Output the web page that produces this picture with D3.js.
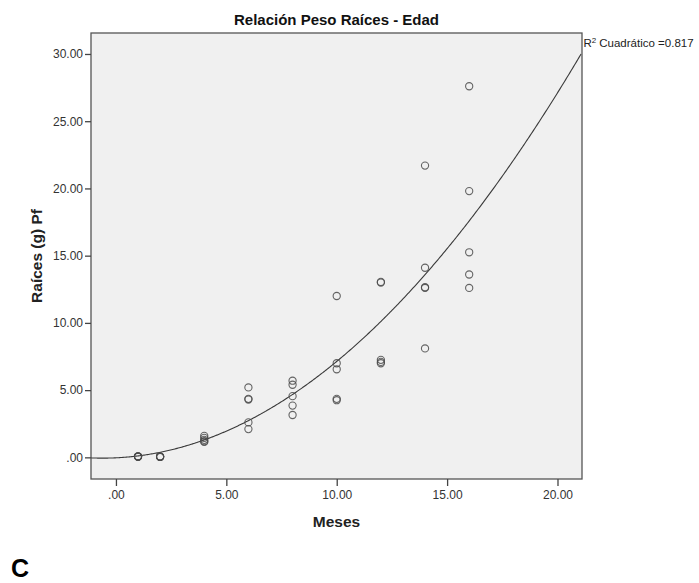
<!DOCTYPE html>
<html>
<head>
<meta charset="utf-8">
<script src="https://cdn.jsdelivr.net/npm/d3@7"></script>
<style>
  html, body { margin: 0; padding: 0; background: #fff; }
  svg { display: block; font-family: "Liberation Sans", Arial, sans-serif; }
</style>
</head>
<body>
<svg id="chart" width="699" height="583"></svg>
<script>
// Edad de la planta (meses) y peso fresco de raíces (g) de cada muestra
const meses = [
  1, 1, 1, 1, 1,
  2, 2, 2, 2, 2,
  4, 4, 4, 4, 4,
  6, 6, 6, 6, 6,
  8, 8, 8, 8, 8,
  10, 10, 10, 10, 10,
  12, 12, 12, 12, 12,
  14, 14, 14, 14, 14,
  16, 16, 16, 16, 16
];
const raices = [
  0.04, 0.06, 0.08, 0.05, 0.07,
  0.03, 0.05, 0.04, 0.06, 0.05,
  1.60, 1.45, 1.30, 1.15, 1.20,
  5.20, 4.35, 4.30, 2.60, 2.10,
  5.70, 5.40, 4.55, 3.85, 3.15,
  12.00, 7.00, 6.55, 4.35, 4.25,
  13.05, 13.00, 7.25, 7.10, 7.00,
  21.70, 14.10, 12.65, 12.60, 8.10,
  27.60, 19.80, 15.25, 13.60, 12.60
];
const xTicks = [0, 5, 10, 15, 20];
const yTicks = [0, 5, 10, 15, 20, 25, 30];
const titulo = "Relación Peso Raíces - Edad";
const tituloX = "Meses";
const tituloY = "Raíces (g) Pf";
const r2Texto = "Cuadrático =0.817";
const panel = "C";

// Ajuste cuadrático por mínimos cuadrados: y = b0 + b1·x + b2·x²
function ajusteCuadratico(xs, ys) {
  const s = [0, 0, 0, 0, 0], t = [0, 0, 0];
  xs.forEach((x, i) => {
    let p = 1;
    for (let k = 0; k < 5; k++) { s[k] += p; if (k < 3) t[k] += p * ys[i]; p *= x; }
  });
  const A = [[s[0], s[1], s[2], t[0]], [s[1], s[2], s[3], t[1]], [s[2], s[3], s[4], t[2]]];
  for (let c = 0; c < 3; c++) {
    for (let r = c + 1; r < 3; r++) {
      const f = A[r][c] / A[c][c];
      for (let k = c; k < 4; k++) A[r][k] -= f * A[c][k];
    }
  }
  const b = [0, 0, 0];
  for (let r = 2; r >= 0; r--) {
    let v = A[r][3];
    for (let k = r + 1; k < 3; k++) v -= A[r][k] * b[k];
    b[r] = v / A[r][r];
  }
  return b;
}

const svg = d3.select("#chart");
const frame = { left: 91, right: 582, top: 33, bottom: 479 };

const x = d3.scaleLinear().domain([-1.13, 21.11]).range([frame.left, frame.right]);
const y = d3.scaleLinear().domain([-1.61, 31.56]).range([frame.bottom, frame.top]);
const fmt = d => d === 0 ? ".00" : d3.format(".2f")(d);

// Fondo del área de trazado
svg.append("rect")
  .attr("x", frame.left).attr("y", frame.top)
  .attr("width", frame.right - frame.left).attr("height", frame.bottom - frame.top)
  .attr("fill", "#f0f0f0");

svg.append("clipPath").attr("id", "area")
  .append("rect")
  .attr("x", frame.left).attr("y", frame.top)
  .attr("width", frame.right - frame.left).attr("height", frame.bottom - frame.top);

// Curva ajustada
const coef = ajusteCuadratico(meses, raices);
const curva = d3.range(-1.13, 21.12, 0.05).map(v => [v, coef[0] + coef[1] * v + coef[2] * v * v]);
svg.append("path")
  .datum(curva)
  .attr("clip-path", "url(#area)")
  .attr("fill", "none")
  .attr("stroke", "#3a3a3a")
  .attr("stroke-width", 1.1)
  .attr("d", d3.line().x(d => x(d[0])).y(d => y(d[1])));

// Observaciones
svg.append("g")
  .selectAll("circle")
  .data(meses.map((m, i) => [m, raices[i]]))
  .join("circle")
  .attr("cx", d => x(d[0]))
  .attr("cy", d => y(d[1]))
  .attr("r", 3.6)
  .attr("fill", "none")
  .attr("stroke", "#4a4a4a")
  .attr("stroke-opacity", 0.85)
  .attr("stroke-width", 1.1);

// Marco
svg.append("rect")
  .attr("x", frame.left).attr("y", frame.top)
  .attr("width", frame.right - frame.left).attr("height", frame.bottom - frame.top)
  .attr("fill", "none").attr("stroke", "#555").attr("stroke-width", 1.3);

// Ejes
const ejeY = svg.append("g")
  .attr("transform", `translate(${frame.left},0)`)
  .call(d3.axisLeft(y).tickValues(yTicks).tickFormat(fmt).tickSize(6).tickSizeOuter(0).tickPadding(2));
const ejeX = svg.append("g")
  .attr("transform", `translate(0,${frame.bottom})`)
  .call(d3.axisBottom(x).tickValues(xTicks).tickFormat(fmt).tickSize(7).tickSizeOuter(0).tickPadding(4));
[ejeY, ejeX].forEach(g => {
  g.select(".domain").remove();
  g.selectAll(".tick line").attr("stroke", "#444").attr("stroke-width", 1.3);
  g.selectAll(".tick text").attr("fill", "#333").style("font-size", "12px")
    .style("font-family", "'Liberation Sans', Arial, sans-serif");
});

// Títulos
svg.append("text")
  .attr("x", (frame.left + frame.right) / 2).attr("y", 25)
  .attr("text-anchor", "middle")
  .style("font-size", "15px").style("font-weight", "bold").attr("fill", "#111")
  .text(titulo);

svg.append("text")
  .attr("x", (frame.left + frame.right) / 2).attr("y", 527)
  .attr("text-anchor", "middle")
  .style("font-size", "15.5px").style("font-weight", "bold").attr("fill", "#222")
  .text(tituloX);

svg.append("text")
  .attr("transform", `translate(41.5,${(frame.top + frame.bottom) / 2}) rotate(-90)`)
  .attr("text-anchor", "middle")
  .style("font-size", "15.5px").style("font-weight", "bold").attr("fill", "#222")
  .text(tituloY);

// Etiqueta del ajuste
const r2 = svg.append("text")
  .attr("x", frame.right + 1.5).attr("y", 47)
  .style("font-size", "11.5px").attr("fill", "#222");
r2.append("tspan").text("R");
r2.append("tspan").attr("dy", -4.5).style("font-size", "8px").text("2");
r2.append("tspan").attr("dy", 4.5).attr("dx", 3).text(r2Texto);

// Letra del panel
svg.append("text")
  .attr("x", 11).attr("y", 577)
  .style("font-size", "25px").style("font-weight", "bold").attr("fill", "#000")
  .text(panel);
</script>
</body>
</html>
